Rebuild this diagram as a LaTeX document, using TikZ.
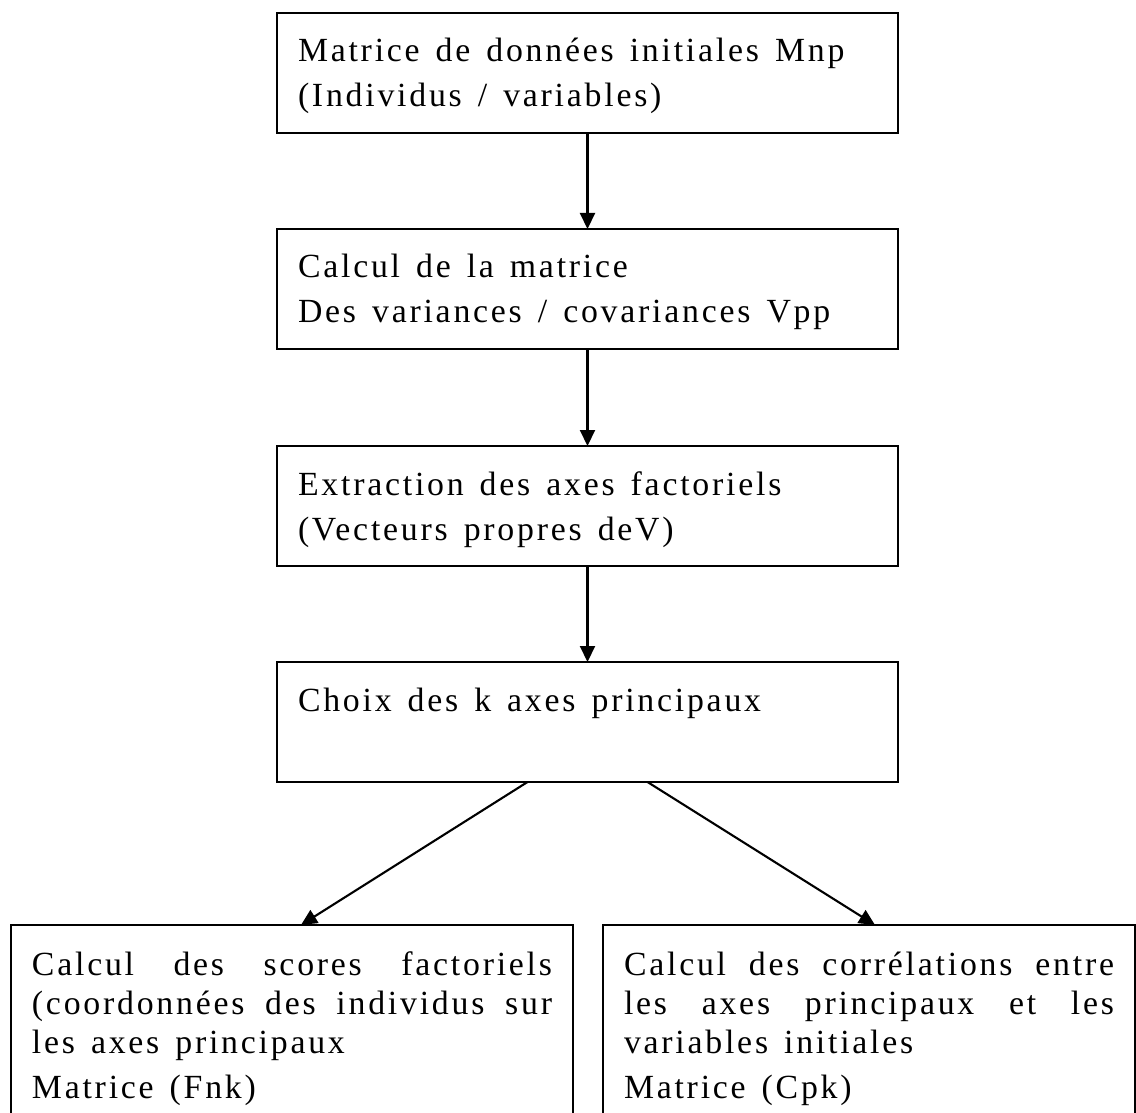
\documentclass[tikz,border=0pt]{standalone}
\usepackage{fontspec}
\setmainfont{Liberation Serif}[LetterSpace=8.2]
\usetikzlibrary{arrows.meta,calc}

% body text: tracked Times-like face
\newcommand{\boxfont}[1]{\fontsize{16.9pt}{#1}\selectfont}
% extra width added to each word space
\newcommand{\wsp}{\hspace{0.14em}}

\begin{document}
\begin{tikzpicture}[x=0.5pt,y=-0.5pt,
  box/.style={draw, line width=1.05pt, anchor=north west,
    inner xsep=10.5pt, inner ysep=0pt, outer sep=0pt},
  stepbox/.style={box, align=left, text width=289.5pt,
    font=\boxfont{22.5pt}, text height=24.5pt, text depth=35.5pt},
  resultbox/.style={box, align=justify,
    font=\boxfont{19.5pt}, text height=25pt, text depth=100pt},
  arr/.style={line width=1.05pt, -{Triangle[length=8pt,width=7.5pt]}}
]
\useasboundingbox (0,0) rectangle (1136,1113);
\fill[white] (0,0) rectangle (1136,1113);
\clip (0,0) rectangle (1136,1113);

% main chain of steps
\node[stepbox] (b1) at (277,13)
  {Matrice\wsp{} de\wsp{} données\wsp{} initiales\wsp{} Mnp\\
   (Individus\wsp{} /\wsp{} variables)};
\node[stepbox] (b2) at (277,229)
  {Calcul\wsp{} de\wsp{} la\wsp{} matrice\\
   Des\wsp{} variances\wsp{} /\wsp{} covariances\wsp{} Vpp};
\node[stepbox] (b3) at (277,446)
  {Extraction\wsp{} des\wsp{} axes\wsp{} factoriels\\
   (Vecteurs\wsp{} propres\wsp{} deV)};
\node[stepbox] (b4) at (277,662)
  {Choix\wsp{} des\wsp{} k\wsp{} axes\wsp{} principaux};

% two resulting matrices
\node[resultbox, text width=260pt] (b5) at (11,925)
  {Calcul des scores factoriels\linebreak
   (coordonnées\wsp{} des\wsp{} individus\wsp{} sur\linebreak
   les\wsp{} axes\wsp{} principaux\par\vspace{3pt}
   Matrice\wsp{} (Fnk)};
\node[resultbox, text width=245pt] (b6) at (603,925)
  {Calcul\wsp{} des\wsp{} corrélations\wsp{} entre\linebreak
   les axes principaux et les\linebreak
   variables\wsp{} initiales\par\vspace{3pt}
   Matrice\wsp{} (Cpk)};

% connectors
\draw[arr] (b1.south) -- (b2.north);
\draw[arr] (b2.south) -- (b3.north);
\draw[arr] (b3.south) -- (b4.north);
\draw[arr] ($(b4.south)+(-60,0)$) -- ($(b5.north)+(9,0)$);
\draw[arr] ($(b4.south)+(60,0)$) -- ($(b6.north)+(6,0)$);
\end{tikzpicture}
\end{document}
